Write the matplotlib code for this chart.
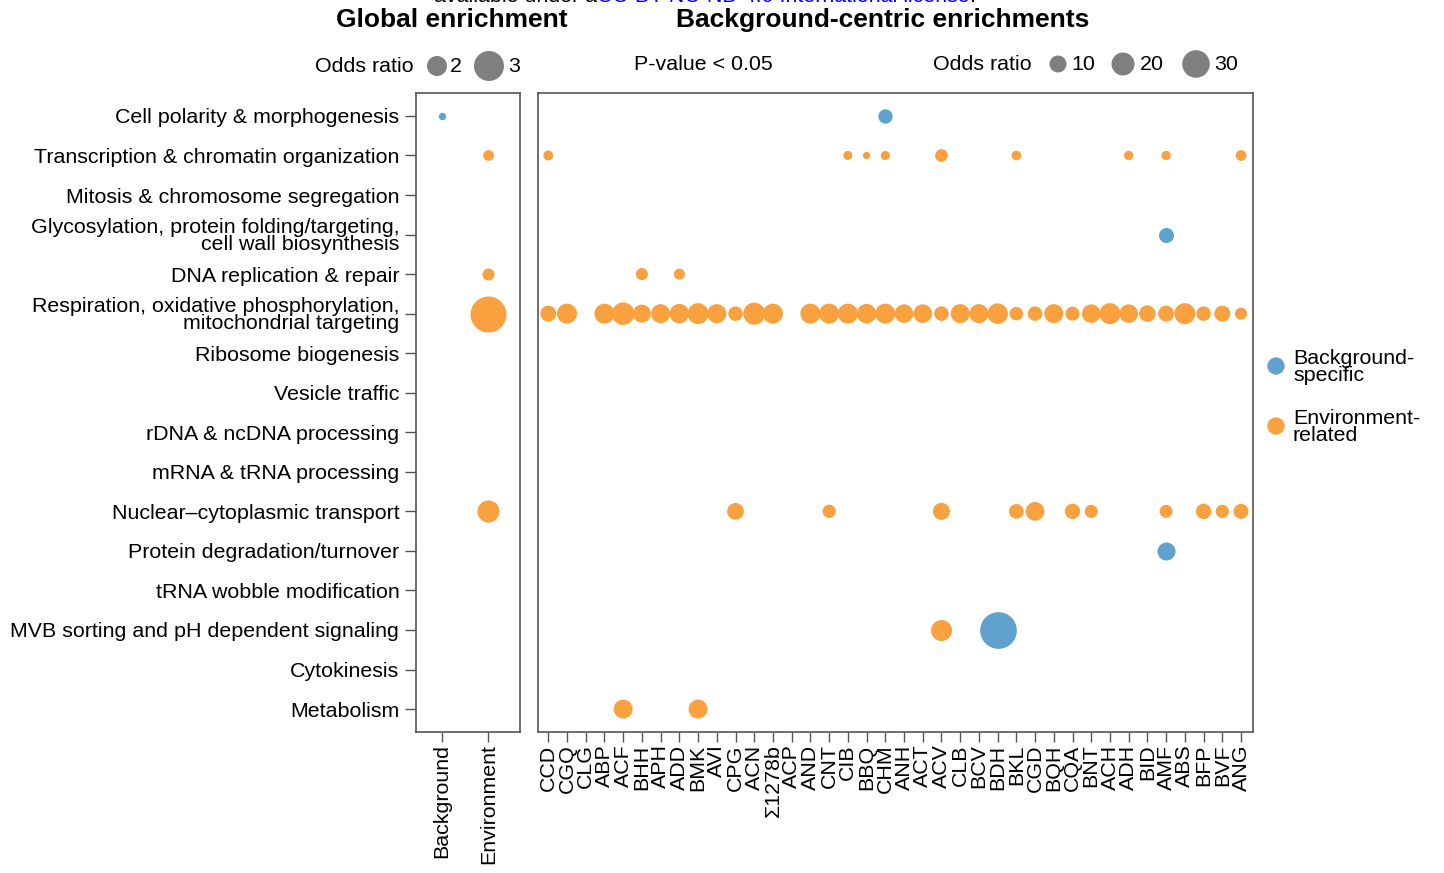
import numpy as np
import matplotlib.pyplot as plt
from matplotlib import transforms

plt.rcParams['font.family'] = ['Liberation Sans', 'DejaVu Sans']

W, H = 1444, 873
nan = np.nan
FS = 15.4

categories = [
    "Cell polarity & morphogenesis",
    "Transcription & chromatin organization",
    "Mitosis & chromosome segregation",
    "Glycosylation, protein folding/targeting,\ncell wall biosynthesis",
    "DNA replication & repair",
    "Respiration, oxidative phosphorylation,\nmitochondrial targeting",
    "Ribosome biogenesis",
    "Vesicle traffic",
    "rDNA & ncDNA processing",
    "mRNA & tRNA processing",
    "Nuclear\u2013cytoplasmic transport",
    "Protein degradation/turnover",
    "tRNA wobble modification",
    "MVB sorting and pH dependent signaling",
    "Cytokinesis",
    "Metabolism",
]

strains = ["CCD", "CGQ", "CLG", "ABP", "ACF", "BHH", "APH", "ADD", "BMK", "AVI",
           "CPG", "ACN", "\u03a31278b", "ACP", "AND", "CNT", "CIB", "BBQ", "CHM", "ANH",
           "ACT", "ACV", "CLB", "BCV", "BDH", "BKL", "CGD", "BQH", "CQA", "BNT",
           "ACH", "ADH", "BID", "AMF", "ABS", "BFP", "BVF", "ANG"]

# global enrichment odds ratios
global_background = {categories[0]: 1.31}
global_environment = {categories[1]: 1.43, categories[4]: 1.49,
                      categories[5]: 3.79, categories[10]: 2.17}

# background-centric odds ratios, environment-related
resp_or = [8.7, 14.6, nan, 14.6, 19.1, 11.5, 13.0, 13.8, 16.3, 13.0,
           6.9, 18.2, 14.6, nan, 14.6, 14.6, 14.6, 13.8, 14.6, 12.3,
           12.3, 6.9, 13.0, 13.0, 15.5, 5.8, 6.9, 13.0, 6.4, 12.3,
           16.3, 12.3, 9.4, 8.7, 16.3, 6.9, 8.7, 4.4]
env_transcription = {"CCD": 2.7, "CIB": 2.1, "BBQ": 1.1, "CHM": 2.1, "ACV": 5.0,
                     "BKL": 2.5, "ADH": 2.3, "AMF": 2.3, "ANG": 3.3}
env_dna = {"BHH": 4.4, "ADD": 3.5}
env_nuclear = {"CPG": 9.7, "CNT": 5.6, "ACV": 10.1, "BKL": 7.2, "CGD": 12.6,
               "CQA": 7.9, "BNT": 5.3, "AMF": 5.3, "BFP": 7.9, "BVF": 5.6, "ANG": 7.5}
env_mvb = {"ACV": 16.3}
env_metabolism = {"ACF": 13.0, "BMK": 13.0}

# background-centric odds ratios, background-specific
bgs_polarity = {"CHM": 6.7}
bgs_glyco = {"AMF": 7.5}
bgs_degradation = {"AMF": 11.5}
bgs_mvb = {"BDH": 55.6}

blue = '#5fa2ce'
orange = '#f9a03f'
grey = '#7f7f7f'
edge = '#555555'


def bg_size(v):
    d = 2.4 + 4.6 * np.sqrt(np.asarray(v, dtype=float))
    return (d * 0.72) ** 2


def gl_size(v):
    d = np.sqrt(500 * np.asarray(v, dtype=float) - 600)
    return (d * 0.72) ** 2


fig = plt.figure(figsize=(W / 100, H / 100), dpi=100)
ax_g = fig.add_axes([416 / W, 1 - 732 / H, 104 / W, 639 / H])
ax_b = fig.add_axes([538 / W, 1 - 732 / H, 715 / W, 639 / H])

# global panel
for cat, v in global_background.items():
    ax_g.scatter(0, categories.index(cat), s=gl_size(v), color=blue, lw=0)
for cat, v in global_environment.items():
    ax_g.scatter(1, categories.index(cat), s=gl_size(v), color=orange, lw=0)

# background-centric panel
xs = np.arange(len(strains))
resp = np.array(resp_or)
keep = ~np.isnan(resp)
ax_b.scatter(xs[keep], np.full(keep.sum(), 5), s=bg_size(resp[keep]), color=orange, lw=0)
env_rows = [(1, env_transcription), (4, env_dna), (10, env_nuclear),
            (13, env_mvb), (15, env_metabolism)]
for row, d in env_rows:
    ax_b.scatter([strains.index(k) for k in d], [row] * len(d),
                 s=bg_size(list(d.values())), color=orange, lw=0)
bgs_rows = [(0, bgs_polarity), (3, bgs_glyco), (11, bgs_degradation), (13, bgs_mvb)]
for row, d in bgs_rows:
    ax_b.scatter([strains.index(k) for k in d], [row] * len(d),
                 s=bg_size(list(d.values())), color=blue, lw=0)

for ax in (ax_g, ax_b):
    ax.set_ylim(len(categories) - 1 + 0.58, -0.58)
    for sp in ax.spines.values():
        sp.set_color(edge)
        sp.set_linewidth(1.2)
    ax.tick_params(axis='x', length=7, width=1, color=edge, labelsize=FS,
                   labelrotation=90, pad=2)

ax_g.set_xlim(-0.55, 1.68)
ax_g.set_xticks([0, 1])
ax_g.set_xticklabels(["Background", "Environment"])
ax_g.set_yticks(range(len(categories)))
ax_g.set_yticklabels(categories, fontsize=FS, linespacing=0.9)
ax_g.tick_params(axis='y', length=8, width=1, color=edge, pad=4)

ax_b.set_xlim(-0.55, len(strains) - 1 + 0.64)
ax_b.set_xticks(xs)
ax_b.set_xticklabels(strains)
ax_b.set_yticks([])

# titles and legends on an overlay in pixel units
ov = fig.add_axes([0, 0, 1, 1], zorder=-1)
ov.set_xlim(0, W)
ov.set_ylim(H, 0)
ov.axis('off')

ov.text(452, 20, "Global enrichment", ha='center', va='center', fontsize=19, fontweight='bold')
ov.text(883, 20, "Background-centric enrichments", ha='center', va='center', fontsize=19, fontweight='bold')

ov.text(414, 66, "Odds ratio", ha='right', va='center', fontsize=FS)
ov.scatter([437, 489], [66, 66], s=gl_size([2, 3]), color=grey, lw=0, clip_on=False)
ov.text(450, 66, "2", ha='left', va='center', fontsize=FS)
ov.text(508, 66, "3", ha='left', va='center', fontsize=FS)

ov.text(703, 64, "P-value < 0.05", ha='center', va='center', fontsize=FS)

ov.text(1032, 64, "Odds ratio", ha='right', va='center', fontsize=FS)
ov.scatter([1058, 1123, 1196], [64, 64, 64], s=bg_size([10, 20, 30]), color=grey, lw=0, clip_on=False)
for x, t in zip([1071, 1140, 1214], ["10", "20", "30"]):
    ov.text(x, 64, t, ha='left', va='center', fontsize=FS)

ov.scatter([1276, 1276], [366, 426], s=bg_size([10.5, 10.5]), color=[blue, orange], lw=0, clip_on=False)
ov.text(1293, 367, "Background-\nspecific", ha='left', va='center', fontsize=FS, linespacing=0.9)
ov.text(1293, 427, "Environment-\nrelated", ha='left', va='center', fontsize=FS, linespacing=0.9)

# clipped preprint notice at the very top, as in the source figure
blend = transforms.blended_transform_factory(transforms.IdentityTransform(), ov.transData)
t1 = ov.text(434, 2, "available under a", ha='left', va='baseline', fontsize=FS)
fig.canvas.draw()
t2 = ov.text(t1.get_window_extent().x1, 2, "CC-BY-NC-ND 4.0 International license",
             ha='left', va='baseline', fontsize=FS, color='#0000ee', transform=blend)
fig.canvas.draw()
ov.text(t2.get_window_extent().x1, 2, ".", ha='left', va='baseline', fontsize=FS, transform=blend)

fig.savefig("out.png", dpi=100)
